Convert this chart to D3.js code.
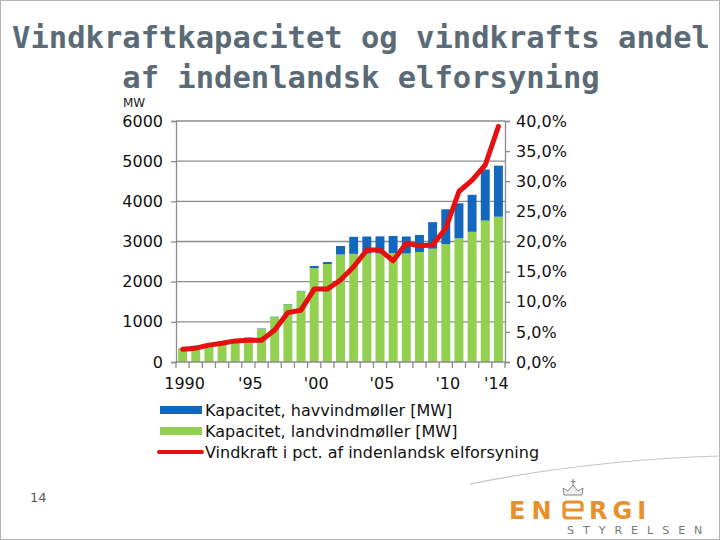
<!DOCTYPE html>
<html>
<head>
<meta charset="utf-8">
<script src="https://cdn.jsdelivr.net/npm/d3@7"></script>
<style>
  html, body { margin: 0; padding: 0; background: #fff; }
  svg { display: block; }
</style>
</head>
<body>
<svg id="chart" width="720" height="540"></svg>
<script>
// ---- data ----
const years = [1990,1991,1992,1993,1994,1995,1996,1997,1998,1999,2000,2001,2002,2003,2004,2005,2006,2007,2008,2009,2010,2011,2012,2013,2014];
const landCapacity = [343,408,453,483,534,604,825,1118,1433,1761,2340,2439,2675,2692,2700,2704,2712,2701,2739,2821,2934,3081,3241,3521,3617];
const offshoreCapacity = [0,5,5,5,5,10,10,10,10,10,50,50,214,424,424,424,424,424,424,661,868,871,921,1271,1271];
const windShare = [2.1,2.3,2.8,3.1,3.5,3.6,3.6,5.3,8.2,8.6,12.1,12.1,13.6,15.8,18.6,18.6,16.8,19.7,19.3,19.4,22.2,28.3,30.2,32.7,39.1];
const leftTicks = [0,1000,2000,3000,4000,5000,6000];
const rightTicks = [0,5,10,15,20,25,30,35,40];
const xLabels = {1990:"1990",1995:"'95",2000:"'00",2005:"'05",2010:"'10",2014:"'14"};
const legendItems = ["Kapacitet, havvindmøller [MW]","Kapacitet, landvindmøller [MW]","Vindkraft i pct. af indenlandsk elforsyning"];
const titleLines = ["Vindkraftkapacitet og vindkrafts andel","af indenlandsk elforsyning"];

const cBlue = "#1367bd", cGreen = "#92d050", cRed = "#e5100f";
const svg = d3.select("#chart");

// slide frame
svg.append("rect").attr("x",0.5).attr("y",0.5).attr("width",719).attr("height",539)
  .attr("fill","none").attr("stroke","#b5b5b5").attr("stroke-width",1);

// title
svg.append("g").selectAll("text").data(titleLines).join("text")
  .attr("x",361).attr("y",(d,i)=>48+i*40)
  .attr("text-anchor","middle")
  .attr("font-family","'DejaVu Sans Mono', monospace").attr("font-weight","bold")
  .attr("font-size",30.5).attr("fill","#5a6a76")
  .text(d=>d);

// scales
const L = 176, R = 505, T = 121, B = 362;
const x = d3.scaleBand().domain(years).range([L,R]).paddingInner(0.32).paddingOuter(0.16);
const yL = d3.scaleLinear().domain([0,6000]).range([B,T]);
const yR = d3.scaleLinear().domain([0,40]).range([B,T]);

const font = "'DejaVu Sans', Verdana, sans-serif";

// gridlines
svg.append("g").selectAll("line").data(leftTicks.filter(d=>d>0)).join("line")
  .attr("x1",L).attr("x2",R).attr("y1",d=>yL(d)).attr("y2",d=>yL(d))
  .attr("stroke","#8c8c8c").attr("stroke-width",1.3);

// bars
const stackData = years.map((yr,i)=>({year:yr, land:landCapacity[i], off:offshoreCapacity[i]}));
const stack = d3.stack().keys(["land","off"])(stackData);
const colors = {land:cGreen, off:cBlue};
svg.append("g").selectAll("g").data(stack).join("g")
  .attr("fill",d=>colors[d.key])
  .selectAll("rect").data(d=>d).join("rect")
  .attr("x",d=>x(d.data.year)).attr("width",x.bandwidth())
  .attr("y",d=>yL(d[1])).attr("height",d=>Math.max(0,yL(d[0])-yL(d[1])));

// left axis
const axL = svg.append("g").attr("transform",`translate(${L},0)`)
  .call(d3.axisLeft(yL).tickValues(leftTicks).tickSize(5).tickPadding(8).tickFormat(d3.format("d")));
axL.select(".domain").attr("stroke","#8c8c8c").attr("stroke-width",1.3);
axL.selectAll(".tick line").attr("stroke","#8c8c8c").attr("stroke-width",1.3);
axL.selectAll("text").attr("font-family",font).attr("font-size",16).attr("fill","#111");

// right axis
const axR = svg.append("g").attr("transform",`translate(${R},0)`)
  .call(d3.axisRight(yR).tickValues(rightTicks).tickSize(5).tickPadding(6)
    .tickFormat(d=>d3.format(".1f")(d).replace(".",",")+"%"));
axR.select(".domain").attr("stroke","#8c8c8c").attr("stroke-width",1.3);
axR.selectAll(".tick line").attr("stroke","#8c8c8c").attr("stroke-width",1.3);
axR.selectAll("text").attr("font-family",font).attr("font-size",16).attr("fill","#111");

// bottom axis line + boundary ticks
svg.append("line").attr("x1",L).attr("x2",R).attr("y1",B).attr("y2",B)
  .attr("stroke","#8c8c8c").attr("stroke-width",1.3);
const step = x.step();
const boundaries = d3.range(years.length+1).map(i=> i===years.length ? R : x(years[i]) - (step - x.bandwidth())/2);
svg.append("g").selectAll("line").data(boundaries).join("line")
  .attr("x1",d=>d).attr("x2",d=>d).attr("y1",B).attr("y2",B+6)
  .attr("stroke","#8c8c8c").attr("stroke-width",1.3);
svg.append("g").selectAll("text").data(years.filter(y=>xLabels[y])).join("text")
  .attr("x",d=>x(d)+x.bandwidth()/2+(d===2014?-2:2)).attr("y",389)
  .attr("text-anchor","middle").attr("font-family",font).attr("font-size",16).attr("fill","#111")
  .text(d=>xLabels[d]);

// red line
const line = d3.line().x((d,i)=>x(years[i])+x.bandwidth()/2).y(d=>yR(d));
svg.append("path").datum(windShare).attr("d",line)
  .attr("fill","none").attr("stroke",cRed).attr("stroke-width",5)
  .attr("stroke-linejoin","round").attr("stroke-linecap","round");

// MW label
svg.append("text").attr("x",123).attr("y",107).attr("font-family",font).attr("font-size",12)
  .attr("fill","#222").text("MW");

// legend
const lg = svg.append("g");
const legendColors = [cBlue,cGreen,cRed];
legendItems.forEach((t,i)=>{
  const cy = 410 + i*21;
  if (i<2) {
    lg.append("rect").attr("x",160).attr("y",cy-4).attr("width",42).attr("height",8).attr("fill",legendColors[i]);
  } else {
    lg.append("line").attr("x1",159).attr("x2",202).attr("y1",cy).attr("y2",cy)
      .attr("stroke",cRed).attr("stroke-width",4).attr("stroke-linecap","round");
  }
  lg.append("text").attr("x",205).attr("y",cy+6).attr("font-family",font).attr("font-size",16)
    .attr("fill","#111").text(t);
});

// page number
svg.append("text").attr("x",30).attr("y",502).attr("font-family",font).attr("font-size",13)
  .attr("fill","#555").text("14");

// decorative arc
svg.append("path").attr("d","M 470 484 Q 590 460 720 456").attr("fill","none")
  .attr("stroke","#c4c4c4").attr("stroke-width",1.2);

// logo
const logo = svg.append("g");
const orange = "#e8912c";
logo.append("text").attr("x",509).attr("y",519).attr("font-family",font).attr("font-weight","bold")
  .attr("font-size",24).attr("fill",orange).attr("letter-spacing",6).text("EN");
logo.append("path").attr("d","M 564 510 H 582 V 505 Q 582 502 579 502 H 567 Q 564 502 564 505 V 515 Q 564 518 567 518 H 582")
  .attr("fill","none").attr("stroke",orange).attr("stroke-width",3.2);
logo.append("text").attr("x",589).attr("y",519).attr("font-family",font).attr("font-weight","bold")
  .attr("font-size",24).attr("fill",orange).attr("letter-spacing",5).text("RGI");
// crown
logo.append("path").attr("d","M 564 495 L 582 495 L 583 488 L 578 491 L 573 485 L 568 491 L 563 488 Z")
  .attr("fill","#eee").attr("stroke","#888").attr("stroke-width",1);
logo.append("path").attr("d","M 573 485 L 573 479 M 570.5 481.5 L 575.5 481.5")
  .attr("stroke","#888").attr("stroke-width",1.2);
logo.append("text").attr("x",567).attr("y",534).attr("font-family",font).attr("font-size",11)
  .attr("fill","#777").attr("letter-spacing",9).text("STYRELSEN");
</script>
</body>
</html>
